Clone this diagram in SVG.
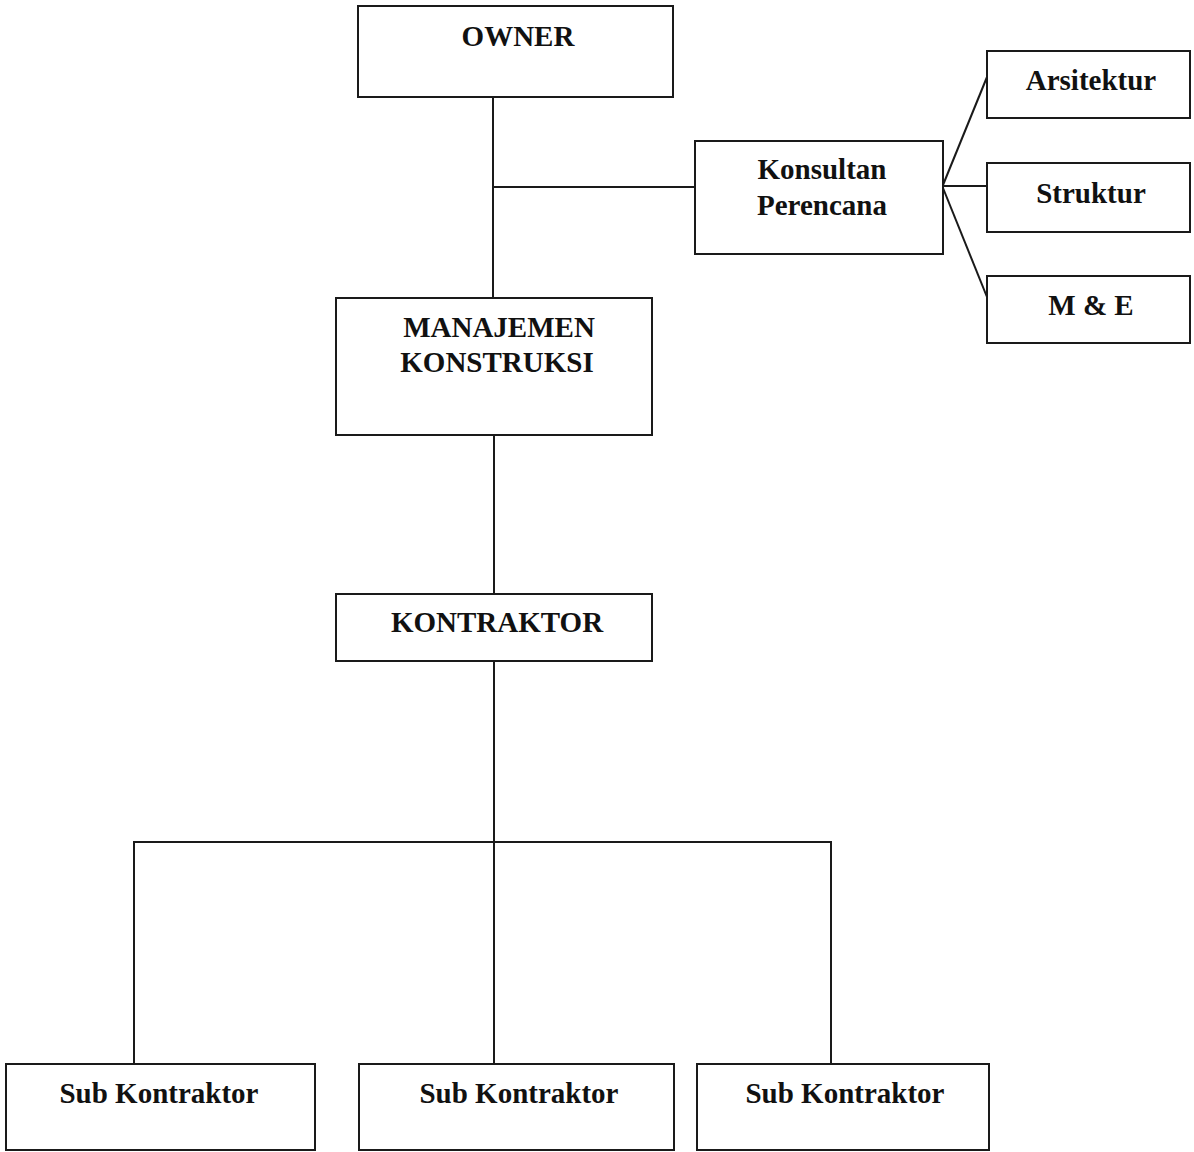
<svg xmlns="http://www.w3.org/2000/svg" width="1194" height="1152" viewBox="0 0 1194 1152">
<style>
.box{fill:#fff;stroke:#1a1a1a;stroke-width:2}
.lbl{font-family:"Liberation Serif","Times New Roman",serif;font-weight:bold;font-size:29px;fill:#111;text-anchor:middle}
.conn{stroke:#1a1a1a;stroke-width:2;fill:none}
</style>
<rect width="1194" height="1152" fill="#fff"/>
<g id="connectors">
<line class="conn" x1="493" y1="97" x2="493" y2="298"/>
<line class="conn" x1="493" y1="187" x2="695" y2="187"/>
<line class="conn" x1="943" y1="185" x2="987" y2="77"/>
<line class="conn" x1="943" y1="186" x2="987" y2="186"/>
<line class="conn" x1="943" y1="188" x2="987" y2="297"/>
<line class="conn" x1="494" y1="435" x2="494" y2="594"/>
<line class="conn" x1="494" y1="661" x2="494" y2="1064"/>
<polyline class="conn" points="134,1064 134,842 831,842 831,1064"/>
</g>
<g id="owner">
<rect class="box" x="358" y="6" width="315" height="91"/>
<text class="lbl" x="518" y="46">OWNER</text>
</g>
<g id="konsultan">
<rect class="box" x="695" y="141" width="248" height="113"/>
<text class="lbl" x="822" y="179">Konsultan</text>
<text class="lbl" x="822" y="215">Perencana</text>
</g>
<g id="arsitektur">
<rect class="box" x="987" y="51" width="203" height="67"/>
<text class="lbl" x="1091" y="90">Arsitektur</text>
</g>
<g id="struktur">
<rect class="box" x="987" y="163" width="203" height="69"/>
<text class="lbl" x="1091" y="203">Struktur</text>
</g>
<g id="me">
<rect class="box" x="987" y="276" width="203" height="67"/>
<text class="lbl" x="1091" y="315">M &amp; E</text>
</g>
<g id="manajemen">
<rect class="box" x="336" y="298" width="316" height="137"/>
<text class="lbl" x="499" y="337">MANAJEMEN</text>
<text class="lbl" x="497" y="372">KONSTRUKSI</text>
</g>
<g id="kontraktor">
<rect class="box" x="336" y="594" width="316" height="67"/>
<text class="lbl" x="497" y="632">KONTRAKTOR</text>
</g>
<g id="sub1">
<rect class="box" x="6" y="1064" width="309" height="86"/>
<text class="lbl" x="159" y="1103">Sub Kontraktor</text>
</g>
<g id="sub2">
<rect class="box" x="359" y="1064" width="315" height="86"/>
<text class="lbl" x="519" y="1103">Sub Kontraktor</text>
</g>
<g id="sub3">
<rect class="box" x="697" y="1064" width="292" height="86"/>
<text class="lbl" x="845" y="1103">Sub Kontraktor</text>
</g>
</svg>
